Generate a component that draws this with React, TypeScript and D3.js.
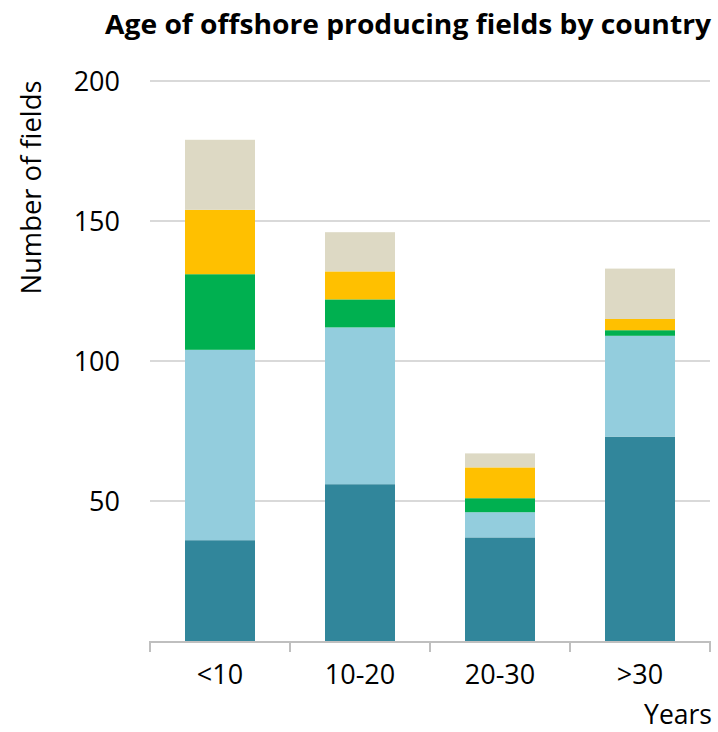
import React from "react";
import * as d3 from "d3";

const categories = ["<10", "10-20", "20-30", ">30"];
const seriesNames = ["Country 1", "Country 2", "Country 3", "Country 4", "Country 5"];
const seriesColors = ["#31869b", "#93cddd", "#00b050", "#ffc000", "#ddd9c4"];
const country1 = [36, 56, 37, 73];
const country2 = [68, 56, 9, 36];
const country3 = [27, 10, 5, 2];
const country4 = [23, 10, 11, 4];
const country5 = [25, 14, 5, 18];
const yTicks = [50, 100, 150, 200];

const W = 718;
const H = 732;
const left = 150;
const right = 710;
const top = 81;
const bottom = 641;

export default function App() {
  const seriesValues = [country1, country2, country3, country4, country5];
  const rows = categories.map((c, i) => {
    const r: any = { cat: c };
    seriesNames.forEach((s, j) => (r[s] = seriesValues[j][i]));
    return r;
  });
  const stacked = d3.stack().keys(seriesNames)(rows);
  const x = d3.scaleBand().domain(categories).range([left, right]).paddingInner(0).paddingOuter(0);
  const y = d3.scaleLinear().domain([0, 200]).range([bottom, top]);
  const barW = 70;
  const font = "'Open Sans', 'Noto Sans', sans-serif";

  return (
    <svg width={W} height={H} style={{ position: "absolute", left: 0, top: 0, background: "#fff" }}>
      <text
        x={105}
        y={34}
        textAnchor="start"
        fontFamily={font}
        fontWeight="bold"
        fontSize={26}
        textLength={606}
        lengthAdjust="spacingAndGlyphs"
        fill="#000"
      >
        Age of offshore producing fields by country
      </text>
      {yTicks.map((t) => (
        <line key={t} x1={left} x2={right} y1={y(t)} y2={y(t)} stroke="#d9d9d9" strokeWidth={2} />
      ))}
      {yTicks.map((t) => (
        <text key={"l" + t} x={120} y={y(t) + 10} textAnchor="end" fontFamily={font} fontSize={27} fill="#000">
          {t}
        </text>
      ))}
      <text
        transform={`translate(41,${(80 + 295) / 2}) rotate(-90)`}
        textAnchor="middle"
        fontFamily={font}
        fontSize={27}
        textLength={214}
        lengthAdjust="spacingAndGlyphs"
        fill="#000"
      >
        Number of fields
      </text>
      {stacked.map((layer, j) =>
        layer.map((d, i) => (
          <rect
            key={j + "-" + i}
            x={(x(categories[i]) as number) + x.bandwidth() / 2 - barW / 2}
            y={y(d[1])}
            width={barW}
            height={y(d[0]) - y(d[1])}
            fill={seriesColors[j]}
          />
        ))
      )}
      <line x1={left} x2={right} y1={bottom + 1} y2={bottom + 1} stroke="#bfbfbf" strokeWidth={2} />
      {[...categories.map((c) => x(c) as number), right].map((px, i) => (
        <line key={"t" + i} x1={px} x2={px} y1={bottom} y2={bottom + 11} stroke="#bfbfbf" strokeWidth={2} />
      ))}
      {categories.map((c) => (
        <text
          key={"c" + c}
          x={(x(c) as number) + x.bandwidth() / 2}
          y={684}
          textAnchor="middle"
          fontFamily={font}
          fontSize={27}
          fill="#000"
        >
          {c}
        </text>
      ))}
      <text x={712} y={724} textAnchor="end" fontFamily={font} fontSize={26.5} fill="#000">
        Years
      </text>
    </svg>
  );
}
